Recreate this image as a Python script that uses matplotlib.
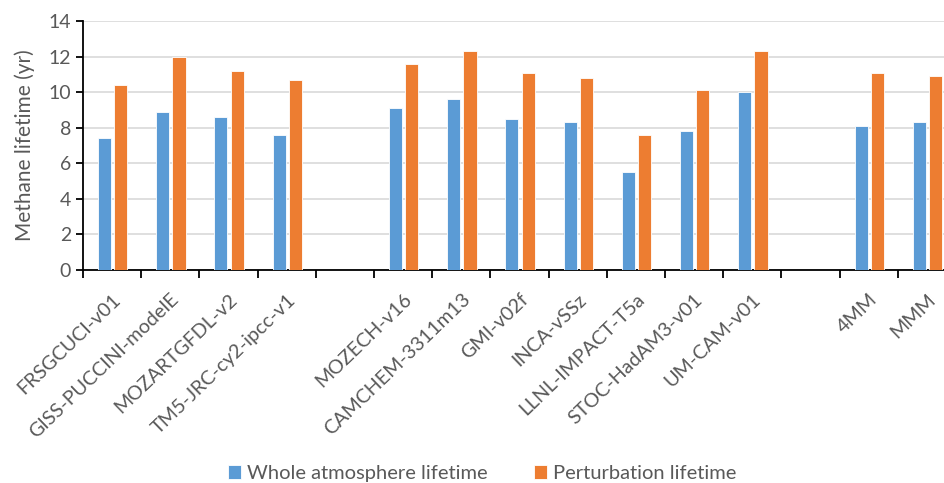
import numpy as np
import matplotlib
matplotlib.use("Agg")
import matplotlib.pyplot as plt

plt.rcParams["font.family"] = ["Lato", "DejaVu Sans"]

models = ["FRSGCUCI-v01", "GISS-PUCCINI-modelE", "MOZARTGFDL-v2", "TM5-JRC-cy2-ipcc-v1", "",
          "MOZECH-v16", "CAMCHEM-3311m13", "GMI-v02f", "INCA-vSSz", "LLNL-IMPACT-T5a",
          "STOC-HadAM3-v01", "UM-CAM-v01", "", "4MM", "MMM"]
whole = [7.4, 8.9, 8.6, 7.6, np.nan, 9.1, 9.6, 8.5, 8.3, 5.5, 7.8, 10.0, np.nan, 8.1, 8.3]
perturb = [10.4, 11.95, 11.2, 10.7, np.nan, 11.6, 12.3, 11.1, 10.8, 7.6, 10.1, 12.3, np.nan, 11.1, 10.9]

BLUE = "#5B9BD5"
ORANGE = "#ED7D31"
GREY = "#595959"

fig = plt.figure(figsize=(9.45, 4.83), dpi=100)
ax = fig.add_axes([83/945, 213/483, 873/945, 249/483])

x = np.arange(len(models))
w = 0.225
ax.bar(x - 0.13, whole, w, color=BLUE, edgecolor="white", linewidth=0.6,
       label="Whole atmosphere lifetime", zorder=3)
ax.bar(x + 0.15, perturb, w, color=ORANGE, edgecolor="white", linewidth=0.6,
       label="Perturbation lifetime", zorder=3)

ax.set_xlim(-0.5, len(models) - 0.5)
ax.set_ylim(0, 14)
ax.set_yticks(range(0, 15, 2))
ax.yaxis.grid(True, color="#D9D9D9", lw=1.2, zorder=0)
ax.set_axisbelow(True)

for s in ["top", "right"]:
    ax.spines[s].set_visible(False)
ax.spines["left"].set_color("black")
ax.spines["bottom"].set_color("black")
ax.spines["bottom"].set_linewidth(1.3)
ax.spines["left"].set_linewidth(1.3)

# boundary ticks, labels at slot centres
ax.set_xticks(np.arange(len(models) + 1) - 0.5)
ax.set_xticklabels([])
ax.tick_params(axis="x", which="major", length=6, width=1.3, direction="out", color="black")
ax.set_xticks(x, minor=True)
ax.set_xticklabels(models, minor=True, rotation=44, ha="right", va="top",
                   rotation_mode="anchor", fontsize=14.2, color=GREY)
ax.tick_params(axis="x", which="minor", length=0, pad=15)
ax.tick_params(axis="y", length=5, width=1.3, color="black", labelsize=14, labelcolor=GREY)

ax.set_ylabel("Methane lifetime (yr)", fontsize=15, color=GREY, labelpad=10)

fig.legend(loc="lower center", bbox_to_anchor=(0.51, -0.036), ncol=2, frameon=False,
           fontsize=14.5, handlelength=0.65, handleheight=0.65, handletextpad=0.3,
           columnspacing=2.3, labelcolor=GREY)

fig.savefig("out.png", dpi=100)
